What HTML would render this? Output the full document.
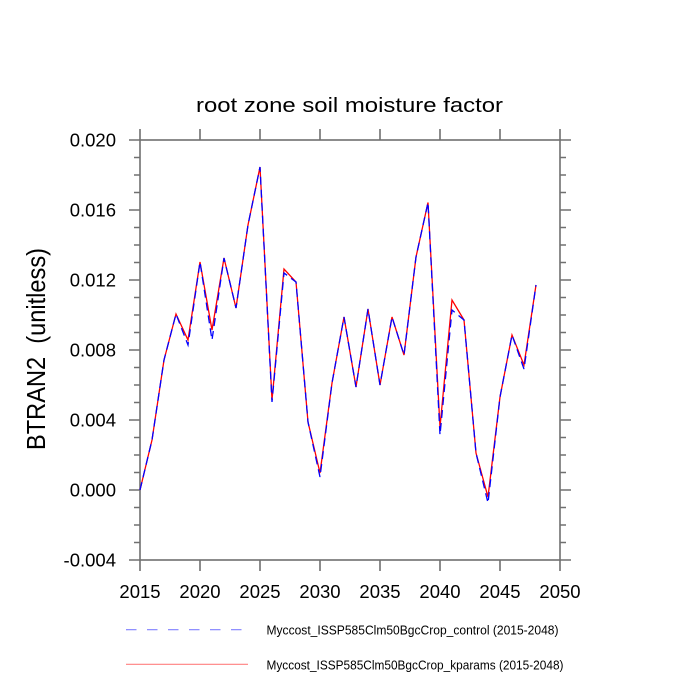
<!DOCTYPE html>
<html><head><meta charset="utf-8"><style>
html,body{margin:0;padding:0;background:#fff;}
svg{display:block;}
text{font-family:"Liberation Sans",Arial,sans-serif;fill:#000;}
</style></head><body>
<svg width="700" height="700" viewBox="0 0 700 700" xmlns="http://www.w3.org/2000/svg">
<rect width="700" height="700" fill="#fff"/>
<text x="349.5" y="112" font-size="20.5" text-anchor="middle" textLength="307" lengthAdjust="spacingAndGlyphs">root zone soil moisture factor</text>
<text transform="translate(45,349) rotate(-90)" font-size="26" text-anchor="middle" textLength="202" lengthAdjust="spacingAndGlyphs" xml:space="preserve">BTRAN2  (unitless)</text>
<g stroke="#707070" stroke-width="1.6" fill="none">
<rect x="140" y="140" width="420" height="420"/>
<path d="M129 140H140M129 210H140M129 280H140M129 350H140M129 420H140M129 490H140M129 560H140
M560 140H571M560 210H571M560 280H571M560 350H571M560 420H571M560 490H571M560 560H571
M134 157.5H140M134 175H140M134 192.5H140M134 227.5H140M134 245H140M134 262.5H140M134 297.5H140M134 315H140M134 332.5H140M134 367.5H140M134 385H140M134 402.5H140M134 437.5H140M134 455H140M134 472.5H140M134 507.5H140M134 525H140M134 542.5H140
M560 157.5H566M560 175H566M560 192.5H566M560 227.5H566M560 245H566M560 262.5H566M560 297.5H566M560 315H566M560 332.5H566M560 367.5H566M560 385H566M560 402.5H566M560 437.5H566M560 455H566M560 472.5H566M560 507.5H566M560 525H566M560 542.5H566
M140 129V140M200 129V140M260 129V140M320 129V140M380 129V140M440 129V140M500 129V140M560 129V140
M140 560V571M200 560V571M260 560V571M320 560V571M380 560V571M440 560V571M500 560V571M560 560V571"/>
</g>
<g font-size="18.5" text-anchor="end">
<text x="116" y="146.7">0.020</text>
<text x="116" y="216.7">0.016</text>
<text x="116" y="286.7">0.012</text>
<text x="116" y="356.7">0.008</text>
<text x="116" y="426.7">0.004</text>
<text x="116" y="496.7">0.000</text>
<text x="116" y="566.7">-0.004</text>
</g>
<g font-size="18.5" text-anchor="middle">
<text x="140" y="598">2015</text>
<text x="200" y="598">2020</text>
<text x="260" y="598">2025</text>
<text x="320" y="598">2030</text>
<text x="380" y="598">2035</text>
<text x="440" y="598">2040</text>
<text x="500" y="598">2045</text>
<text x="560" y="598">2050</text>
</g>
<polyline fill="none" stroke="#ff0000" stroke-width="1.3" points="140,490 152,440 164,360 176,314 188,340 200,262 212,330 224,258 236,308 248,225 260,167 272,400 284,269 296,282 308,422 320,473 332,383 344,317 356,387 368,309 380,385 392,317 404,355 416,257 428,202.5 440,427 452,300 464,320 476,453 488,497 500,397 512,335 524,365 536,285"/>
<polyline fill="none" stroke="#0000ff" stroke-width="1.3" stroke-dasharray="8,5" points="140,490 152,440 164,360 176,314 188,345 200,262 212,340 224,258 236,308 248,225 260,167 272,402 284,273 296,282 308,422 320,477 332,383 344,317 356,387 368,309 380,385 392,317 404,355 416,257 428,202.5 440,435 452,310 464,320 476,453 488,503 500,397 512,335 524,369 536,285"/>
<line x1="126" y1="629.7" x2="248" y2="629.7" stroke="#8080ff" stroke-width="1.2" stroke-dasharray="10.5,10.5"/>
<line x1="126" y1="664.3" x2="248" y2="664.3" stroke="#ff8080" stroke-width="1.2"/>
<text x="266.5" y="634.3" font-size="13" textLength="292" lengthAdjust="spacingAndGlyphs">Myccost_ISSP585Clm50BgcCrop_control (2015-2048)</text>
<text x="266.5" y="669.3" font-size="13" textLength="297" lengthAdjust="spacingAndGlyphs">Myccost_ISSP585Clm50BgcCrop_kparams (2015-2048)</text>
</svg>
</body></html>
